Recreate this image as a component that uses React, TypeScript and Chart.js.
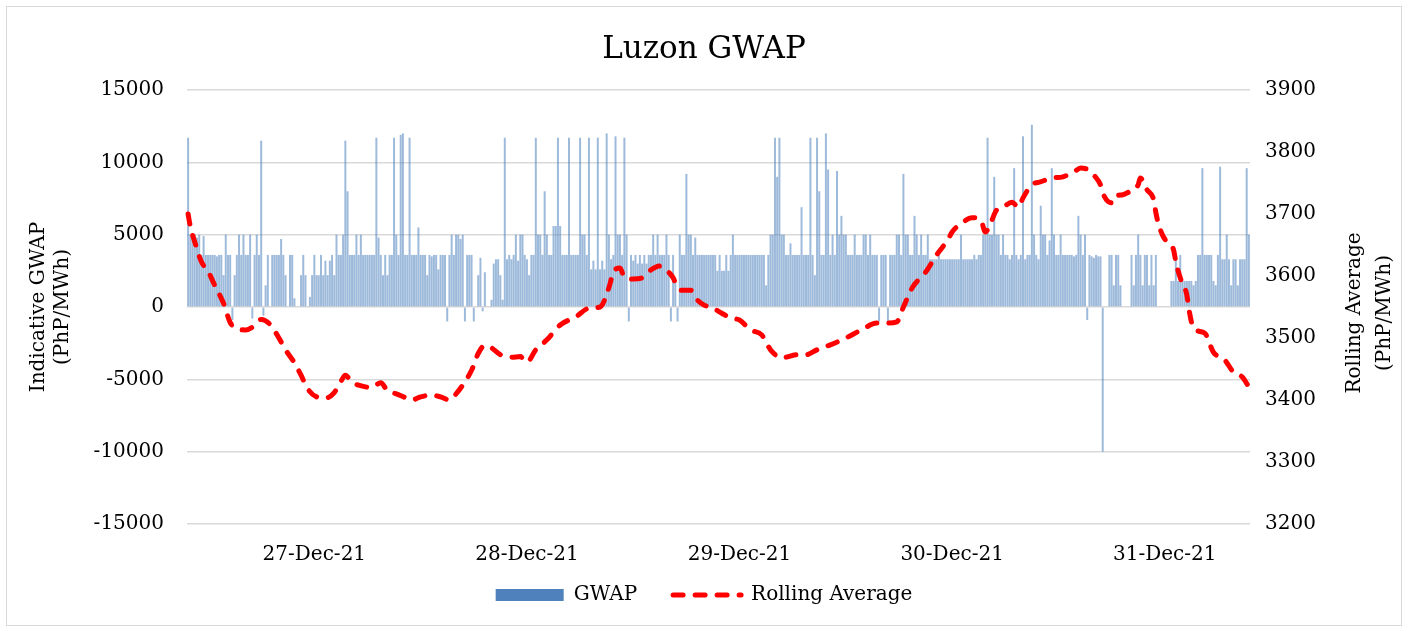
import React, { useEffect, useRef } from 'react';
import { Chart, registerables } from 'chart.js';

Chart.register(...registerables);

// ---------- DATA ----------
const TITLE = 'Luzon GWAP';
const LEFT_TITLE = ['Indicative GWAP', '(PhP/MWh)'];
const RIGHT_TITLE = ['Rolling Average', '(PhP/MWh)'];
const SERIES_NAMES = ['GWAP', 'Rolling Average'];
const DAY_LABELS = ['26-Dec-21', '27-Dec-21', '28-Dec-21', '29-Dec-21', '30-Dec-21', '31-Dec-21'];
const START_MINUTE = 9 * 60 + 45; // first interval 26-Dec-21 09:45
const INTERVAL_MINUTES = 15;

// GWAP (PhP/MWh) per interval, split in five blocks
const gwapBlock1 = [
  11700, 5000, 4900, 5000, 4800, 5000, 3600, 4900, 3600, 3600,
  3600, 3600, 3600, 3500, 3600, 3600, 2200, 5000, 3600, 3600,
  -900, 2200, 3600, 5000, 3600, 5000, 3600, 3600, 5000, -800,
  3600, 5000, 3600, 11500, -600, 1500, 3600, 0, 3600, 3600,
  3600, 3600, 4700, 3600, 2200, 0, 3600, 3600, 600, 0,
  0, 2200, 3600, 2200, 0, 700, 2200, 3600, 2200, 2200,
  3600, 2200, 3200, 2200, 3200, 3600, 2200, 5000, 3600, 3600,
  5000, 11500, 8000, 3600, 3600, 3600, 5000, 3600, 5000, 3600,
  3600, 3600, 3600, 3600, 3600, 11700, 4800, 3600, 2200, 3600,
  2200, 3600, 3600, 11700, 5000, 3600, 11900,
];
const gwapBlock2 = [
  12000, 3600, 3600, 11700, 3600, 3600, 3600, 5500, 3600, 3600,
  3600, 2200, 3600, 3500, 3600, 3600, 2600, 3600, 3600, 3600,
  -1000, 3600, 5000, 3600, 5000, 5000, 4700, 5000, -1000, 3600,
  3600, 3600, -1000, 0, 2200, 3400, -300, 2400, 0, 0,
  500, 3000, 3300, 3300, 2200, 500, 11700, 3300, 3600, 3300,
  3600, 5000, 3200, 5000, 5000, 3600, 3300, 2200, 3600, 3600,
  11700, 5000, 5000, 3600, 8000, 5000, 3600, 3600, 5600, 5600,
  11700, 5600, 3600, 3600, 3600, 11700, 3600, 3600, 3600, 3600,
  11700, 5000, 5000, 3600, 11700, 2600, 3200, 2600, 11700, 2600,
  3200, 2600, 12000, 5000, 3300, 3600, 11800,
];
const gwapBlock3 = [
  5000, 5000, 3600, 11700, 5000, -1000, 3600, 3200, 3600, 3000,
  3600, 3000, 3600, 3000, 3600, 3600, 5000, 3600, 5000, 3600,
  3600, 3600, 5000, 3600, -1000, 3600, 1700, -1000, 5000, 3600,
  3600, 9200, 5000, 5000, 3600, 4800, 3600, 3600, 3600, 3600,
  3600, 3600, 3600, 3600, 3600, 2500, 3600, 2500, 2500, 3600,
  2500, 3600, 5000, 3600, 3600, 3600, 3600, 3600, 3600, 3600,
  3600, 3600, 3600, 3600, 3600, 3600, 3600, 1500, 3600, 5000,
  5000, 11700, 9000, 11700, 5000, 5000, 3600, 3600, 4400, 3600,
  3600, 3600, 3600, 6900, 3600, 3600, 3600, 11700, 3600, 2200,
  11700, 8000, 3600, 3600, 12000, 9500,
];
const gwapBlock4 = [
  3600, 5000, 3600, 9400, 5000, 6300, 5000, 5000, 3600, 3600,
  3600, 5000, 3600, 3600, 3600, 5000, 5000, 3600, 5000, 3600,
  3600, 3600, -1000, 3600, 3600, 3600, -1000, 3600, 3600, 3600,
  5000, 5000, 3600, 9200, 5000, 5000, 3600, 3600, 6300, 5000,
  3600, 5000, 3600, 3600, 5000, 3300, 3300, 3300, 3300, 3600,
  3300, 3300, 3300, 3300, 3300, 3300, 3300, 3300, 3300, 5000,
  3300, 3300, 3300, 3300, 3300, 3600, 3300, 3600, 3600, 5000,
  5000, 11700, 5000, 5000, 9000, 5000, 5000, 3600, 5000, 3600,
  3600, 3300, 3600, 9600, 3600, 3300, 3600, 11800, 3300, 3600,
  3600, 12600, 5000, 3600, 3300, 7000, 5000,
];
const gwapBlock5 = [
  5000, 3600, 4600, 9600, 5000, 3600, 3600, 5000, 3600, 3600,
  3600, 3600, 3600, 3500, 3600, 6300, 5000, 3600, 5000, -900,
  3600, 3500, 3400, 3600, 3500, 3500, -10000, 0, 0, 3600,
  3600, 1500, 3600, 3600, 1500, 0, 0, 0, 0, 3600,
  1500, 3600, 5000, 3600, 1500, 3600, 3600, 1500, 3600, 1500,
  3600, 0, 0, 0, 0, 0, 0, 1800, 1800, 3300,
  1800, 3600, 1800, 1800, 1800, 1800, 1800, 1500, 1800, 3600,
  3600, 9600, 3600, 3600, 3600, 3600, 1800, 1500, 3600, 9700,
  3300, 3300, 5000, 3300, 1500, 3300, 3300, 1500, 3300, 3300,
  3300, 9600, 5000,
];

// Rolling average: interval number and value (PhP/MWh)
const rollingIndex = [
  0, 1, 3, 6, 9, 12, 16, 19, 22, 26, 30, 33, 37, 41, 44, 48, 51, 54, 58, 62,
  66, 69, 71, 74, 77, 83, 87, 90, 94, 98, 101, 105, 110, 114, 118, 121, 124, 128, 131, 134,
  137, 141, 146, 150, 153, 157, 162, 168, 175, 181, 186, 190, 192, 195, 197, 201, 205, 209, 213, 217,
  219, 221, 223, 227, 229, 233, 236, 241, 245, 249, 254, 259, 263, 268, 275, 279, 284, 290, 297, 304,
  311, 316, 320, 323, 327, 333, 338, 343, 345, 350, 354, 358, 360, 362, 365, 368, 372, 375, 377, 381,
  385, 390, 395, 400, 403, 408, 409, 412, 413, 417, 418, 422, 424, 429, 430, 433, 436, 437, 438, 440,
  442, 445, 446, 448, 451, 452, 454, 459, 463, 468, 472, 476, 479,
];
const rollingValue = [
  3700, 3680, 3655, 3623, 3608, 3585, 3556, 3525, 3515, 3513, 3520, 3530, 3522, 3500, 3481, 3460, 3440, 3418, 3405, 3403,
  3412, 3430, 3440, 3428, 3424, 3420, 3428, 3415, 3410, 3404, 3400, 3405, 3408, 3405, 3400, 3410, 3424, 3448, 3475, 3488,
  3484, 3473, 3469, 3470, 3461, 3481, 3497, 3521, 3534, 3548, 3550, 3581, 3606, 3613, 3598, 3595, 3597, 3610, 3616, 3606,
  3597, 3581, 3577, 3577, 3565, 3553, 3550, 3540, 3532, 3529, 3513, 3505, 3481, 3468, 3473, 3473, 3481, 3489, 3500, 3513,
  3524, 3524, 3526, 3550, 3581, 3606, 3634, 3658, 3671, 3687, 3694, 3690, 3671, 3682, 3706, 3711, 3719, 3711, 3726, 3747,
  3752, 3758, 3760, 3768, 3774, 3768, 3763, 3747, 3734, 3718, 3727, 3731, 3734, 3747, 3758, 3739, 3723, 3702, 3686, 3666,
  3655, 3642, 3623, 3597, 3569, 3545, 3516, 3508, 3477, 3465, 3445, 3437, 3421,
];

const leftTicks = { min: -15000, max: 15000, step: 5000 };
const rightTicks = { min: 3200, max: 3900, step: 100 };

// ---------- derived tables ----------
const gwap = [...gwapBlock1, ...gwapBlock2, ...gwapBlock3, ...gwapBlock4, ...gwapBlock5];
const pad2 = (n: number) => String(n).padStart(2, '0');
const categories: string[] = gwap.map((_, i) => {
  const t = START_MINUTE + i * INTERVAL_MINUTES;
  const d = Math.floor(t / 1440);
  const m = t % 1440;
  return `${DAY_LABELS[d]} ${pad2(Math.floor(m / 60))}:${pad2(m % 60)}`;
});
const rolling: (number | null)[] = gwap.map(() => null);
rollingIndex.forEach((idx, k) => {
  rolling[idx] = rollingValue[k];
});

const FONT = '"DejaVu Serif", serif';

const sideTitles = {
  id: 'sideTitles',
  afterDraw(chart: any) {
    const { ctx, chartArea: ca } = chart;
    ctx.save();
    ctx.font = `20px ${FONT}`;
    ctx.fillStyle = '#000';
    ctx.textAlign = 'center';
    ctx.textBaseline = 'middle';
    // date labels on the category axis, at midnight intervals
    const xs = chart.scales.x;
    categories.forEach((lab, i) => {
      if (lab.endsWith(' 00:00')) {
        ctx.fillText(lab.split(' ')[0], xs.getPixelForValue(i), ca.bottom + 31);
      }
    });
    const cy = (ca.top + ca.bottom) / 2;
    const drawRot = (lines: string[], pos: number[], y: number) => {
      lines.forEach((t, i) => {
        ctx.save();
        ctx.translate(pos[i], y);
        ctx.rotate(-Math.PI / 2);
        ctx.fillText(t, 0, 0);
        ctx.restore();
      });
    };
    drawRot(LEFT_TITLE, [ca.left - 148, ca.left - 124], cy);
    drawRot(RIGHT_TITLE, [ca.right + 105, ca.right + 135], cy + 6);
    ctx.restore();
  },
};

export default function App() {
  const ref = useRef<HTMLCanvasElement>(null);
  useEffect(() => {
    Chart.defaults.font.family = FONT;
    Chart.defaults.color = '#000';
    const chart = new Chart(ref.current as HTMLCanvasElement, {
      type: 'bar',
      data: {
        labels: categories,
        datasets: [
          {
            type: 'bar',
            label: SERIES_NAMES[0],
            data: gwap,
            yAxisID: 'y',
            backgroundColor: 'rgba(79,129,189,0.55)',
            borderWidth: 0,
            barPercentage: 0.9,
            categoryPercentage: 1,
            order: 1,
          } as any,
          {
            type: 'line',
            label: SERIES_NAMES[1],
            data: rolling,
            yAxisID: 'y1',
            borderColor: '#FF0000',
            backgroundColor: '#FF0000',
            borderWidth: 5,
            borderDash: [10, 12],
            borderCapStyle: 'round',
            pointRadius: 0,
            spanGaps: true,
            cubicInterpolationMode: 'monotone',
            order: 0,
          } as any,
        ],
      },
      options: {
        responsive: false,
        animation: false,
        devicePixelRatio: 1,
        layout: { padding: { top: 0, left: 0, right: 0, bottom: 10 } },
        plugins: {
          title: {
            display: true,
            text: TITLE,
            color: '#000',
            font: { size: 31, weight: 'normal', family: FONT },
            padding: { top: 24, bottom: 21.8 },
          },
          legend: {
            position: 'bottom',
            labels: {
              usePointStyle: true,
              pointStyleWidth: 68,
              boxHeight: 12,
              padding: 36,
              color: '#000',
              font: { size: 20, family: FONT },
              generateLabels(ch: any) {
                const items = (Chart.defaults.plugins.legend.labels as any).generateLabels(ch);
                return items
                  .sort((a: any, b: any) => a.datasetIndex - b.datasetIndex)
                  .map((it: any) =>
                    it.datasetIndex === 0
                      ? { ...it, pointStyle: 'rect', fillStyle: '#4F81BD', strokeStyle: '#4F81BD', lineWidth: 0 }
                      : { ...it, pointStyle: 'line', fillStyle: '#FF0000', strokeStyle: '#FF0000', lineWidth: 5, lineDash: [10, 12], lineCap: 'round' }
                  );
              },
            },
          },
          tooltip: { enabled: false },
        },
        scales: {
          x: {
            type: 'category',
            offset: true,
            grid: { display: false, drawTicks: false },
            border: { display: false },
            ticks: { display: false },
            afterFit: (s: any) => {
              s.height = 25;
            },
          },
          y: {
            type: 'linear',
            position: 'left',
            min: leftTicks.min,
            max: leftTicks.max,
            grid: { color: '#d9d9d9', lineWidth: 1.5, drawTicks: false },
            border: { display: false },
            ticks: {
              stepSize: leftTicks.step,
              padding: 23,
              color: '#000',
              font: { size: 20, family: FONT },
              callback: (v: any) => String(v),
            },
            afterFit: (s: any) => {
              s.width = 180;
            },
          },
          y1: {
            type: 'linear',
            position: 'right',
            min: rightTicks.min,
            max: rightTicks.max,
            grid: { display: false, drawTicks: false },
            border: { display: false },
            ticks: {
              stepSize: rightTicks.step,
              padding: 15,
              color: '#000',
              font: { size: 20, family: FONT },
              callback: (v: any) => String(v),
            },
            afterFit: (s: any) => {
              s.width = 151;
            },
          },
        },
      } as any,
      plugins: [sideTitles],
    });
    return () => chart.destroy();
  }, []);

  return (
    <div
      style={{
        position: 'absolute',
        left: 6,
        top: 6,
        width: 1394,
        height: 618,
        border: '1px solid #d9d9d9',
        background: '#fff',
      }}
    >
      <canvas ref={ref} width={1394} height={618} style={{ display: 'block', width: 1394, height: 618 }} />
    </div>
  );
}
